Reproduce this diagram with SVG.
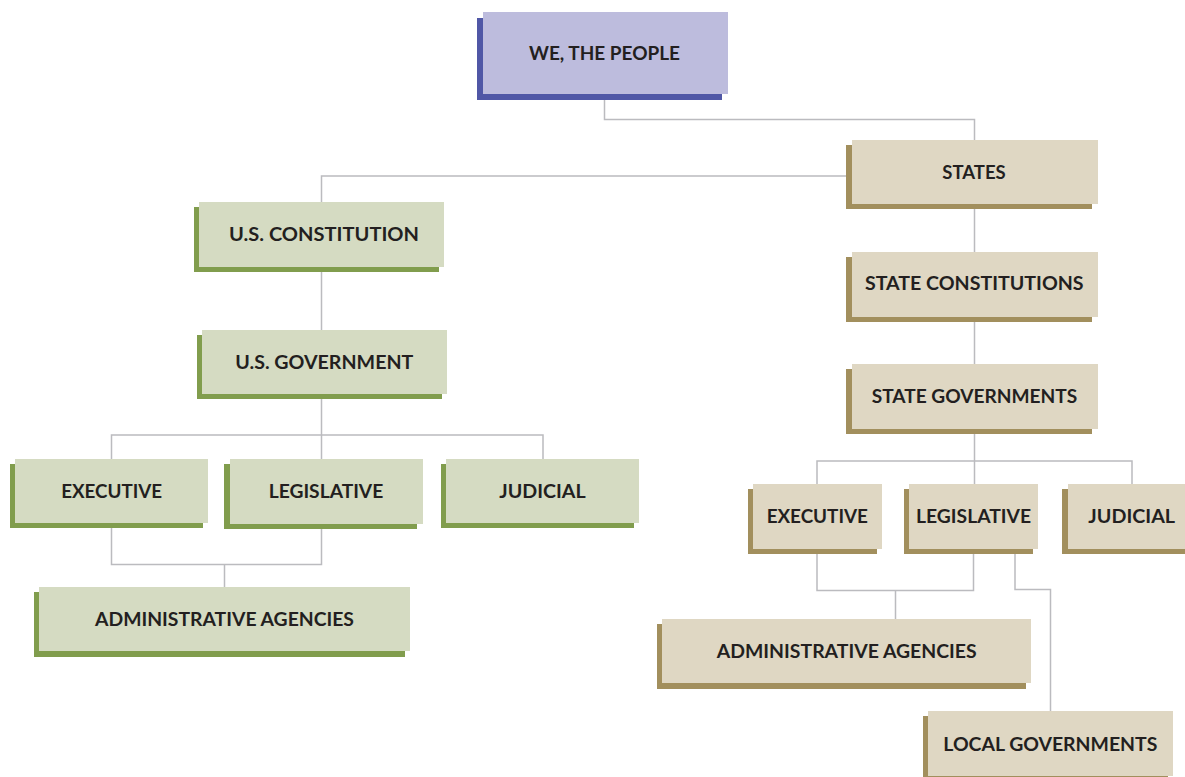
<svg xmlns="http://www.w3.org/2000/svg" width="1185" height="777" viewBox="0 0 1185 777">
<style>
.bg{fill:#ffffff}
.c{fill:none;stroke:#bbbbbf;stroke-width:1.5}
.pf{fill:#bdbcdd}.ps{fill:#5057a6}
.gf{fill:#d5dbc2}.gs{fill:#819d4d}
.tf{fill:#dfd7c3}.ts{fill:#a28f5d}
.t{font-family:Lato,"Open Sans","Liberation Sans",sans-serif;font-weight:bold;font-size:18px;fill:#231f20;text-anchor:middle}
</style>
<rect class="bg" x="0" y="0" width="1185" height="777"/>
<g id="connectors">
<path class="c" d="M604.5 100 V119.5 H974.5 V140"/>
<path class="c" d="M852 176 H321.5 V202"/>
<path class="c" d="M321.5 272 V330"/>
<path class="c" d="M321.5 399 V459"/>
<path class="c" d="M111.5 459 V435 H543 V459"/>
<path class="c" d="M111.5 528 V564.5 H321.5 V528"/>
<path class="c" d="M224.5 564.5 V587"/>
<path class="c" d="M974.5 209 V252"/>
<path class="c" d="M974.5 322 V364"/>
<path class="c" d="M974.5 434 V484"/>
<path class="c" d="M817 484 V461 H1132 V484"/>
<path class="c" d="M817 553 V590.5 H973.5 V553"/>
<path class="c" d="M895.5 590.5 V619"/>
<path class="c" d="M1015 553 V589.5 H1050.5 V711"/>
</g>
<g id="we-the-people">
<rect class="ps" x="477" y="18" width="245" height="82"/>
<rect class="pf" x="483" y="12" width="245" height="82"/>
<text class="t" x="604.5" y="60" textLength="151" lengthAdjust="spacingAndGlyphs">WE, THE PEOPLE</text>
</g>
<g id="states">
<rect class="ts" x="846" y="145" width="246" height="64"/>
<rect class="tf" x="852" y="140" width="246" height="64"/>
<text class="t" x="974" y="179.3" textLength="63.4" lengthAdjust="spacingAndGlyphs">STATES</text>
</g>
<g id="state-constitutions">
<rect class="ts" x="846" y="257" width="246" height="65"/>
<rect class="tf" x="852" y="252" width="246" height="65"/>
<text class="t" x="974.3" y="290" textLength="218.7" lengthAdjust="spacingAndGlyphs">STATE CONSTITUTIONS</text>
</g>
<g id="state-governments">
<rect class="ts" x="846" y="369" width="246" height="65"/>
<rect class="tf" x="852" y="364" width="246" height="65"/>
<text class="t" x="974.5" y="403.3" textLength="205.6" lengthAdjust="spacingAndGlyphs">STATE GOVERNMENTS</text>
</g>
<g id="us-constitution">
<rect class="gs" x="194" y="207" width="245" height="65"/>
<rect class="gf" x="199" y="202" width="245" height="65"/>
<text class="t" x="324" y="240.7" textLength="190" lengthAdjust="spacingAndGlyphs">U.S. CONSTITUTION</text>
</g>
<g id="us-government">
<rect class="gs" x="197" y="335" width="245" height="64"/>
<rect class="gf" x="202" y="330" width="245" height="64"/>
<text class="t" x="324.3" y="369" textLength="178" lengthAdjust="spacingAndGlyphs">U.S. GOVERNMENT</text>
</g>
<g id="us-executive">
<rect class="gs" x="10" y="464" width="193" height="64"/>
<rect class="gf" x="15" y="459" width="193" height="64"/>
<text class="t" x="111.7" y="498.3" textLength="101" lengthAdjust="spacingAndGlyphs">EXECUTIVE</text>
</g>
<g id="us-legislative">
<rect class="gs" x="224" y="464" width="193" height="65"/>
<rect class="gf" x="230" y="459" width="193" height="65"/>
<text class="t" x="326" y="498.3" textLength="114.6" lengthAdjust="spacingAndGlyphs">LEGISLATIVE</text>
</g>
<g id="us-judicial">
<rect class="gs" x="441" y="464" width="193" height="64"/>
<rect class="gf" x="446" y="459" width="193" height="64"/>
<text class="t" x="542.5" y="498.3" textLength="86.4" lengthAdjust="spacingAndGlyphs">JUDICIAL</text>
</g>
<g id="us-administrative-agencies">
<rect class="gs" x="34" y="592" width="371" height="65"/>
<rect class="gf" x="39" y="587" width="371" height="64"/>
<text class="t" x="224.5" y="625.7" textLength="259" lengthAdjust="spacingAndGlyphs">ADMINISTRATIVE AGENCIES</text>
</g>
<g id="state-executive">
<rect class="ts" x="748" y="489" width="129" height="65"/>
<rect class="tf" x="753" y="484" width="129" height="65"/>
<text class="t" x="817.3" y="523.3" textLength="101.3" lengthAdjust="spacingAndGlyphs">EXECUTIVE</text>
</g>
<g id="state-legislative">
<rect class="ts" x="904" y="489" width="129" height="65"/>
<rect class="tf" x="909" y="484" width="129" height="65"/>
<text class="t" x="973.5" y="523.3" textLength="115" lengthAdjust="spacingAndGlyphs">LEGISLATIVE</text>
</g>
<g id="state-judicial">
<rect class="ts" x="1062" y="489" width="129" height="65"/>
<rect class="tf" x="1068" y="484" width="129" height="65"/>
<text class="t" x="1131.7" y="523.3" textLength="86.7" lengthAdjust="spacingAndGlyphs">JUDICIAL</text>
</g>
<g id="state-administrative-agencies">
<rect class="ts" x="657" y="624" width="369" height="65"/>
<rect class="tf" x="662" y="619" width="369" height="64"/>
<text class="t" x="846.7" y="657.7" textLength="260" lengthAdjust="spacingAndGlyphs">ADMINISTRATIVE AGENCIES</text>
</g>
<g id="local-governments">
<rect class="ts" x="923" y="716" width="245" height="65"/>
<rect class="tf" x="928" y="711" width="245" height="65"/>
<text class="t" x="1050.3" y="750.7" textLength="214" lengthAdjust="spacingAndGlyphs">LOCAL GOVERNMENTS</text>
</g>
</svg>
